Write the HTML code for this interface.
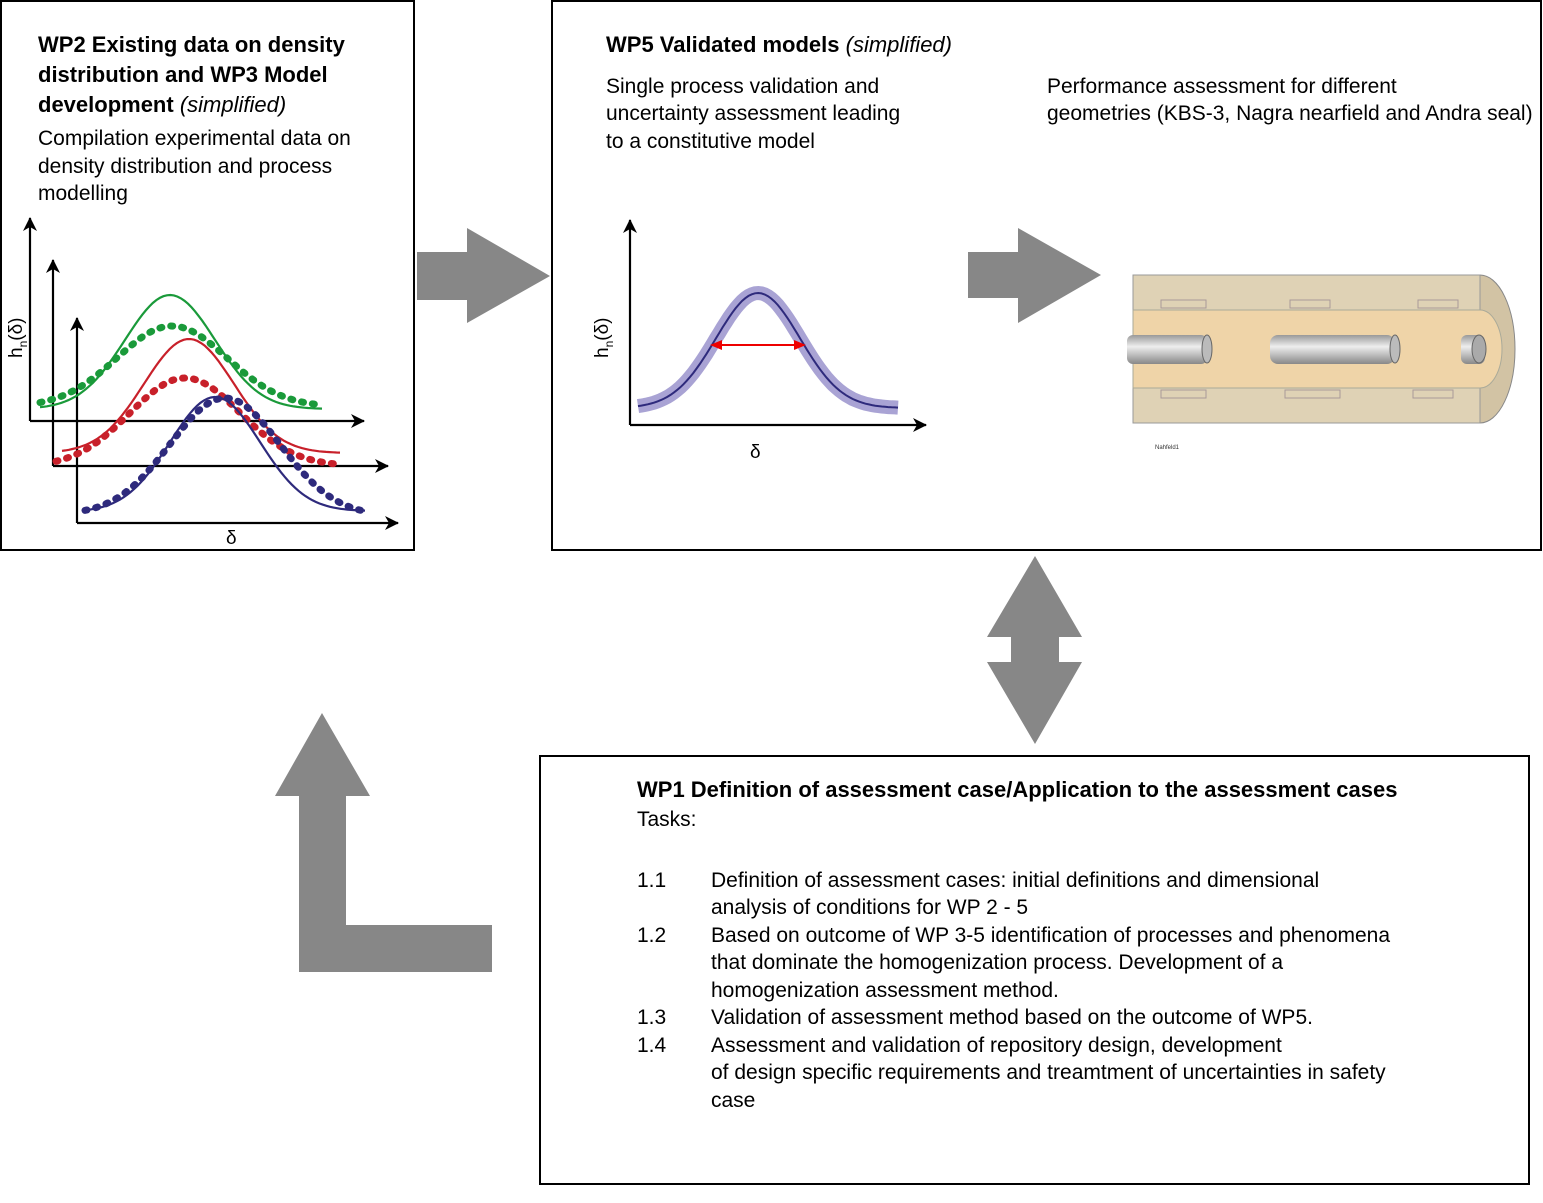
<!DOCTYPE html>
<html><head><style>
body{margin:0;background:#fff;}
svg{display:block;font-family:"Liberation Sans",sans-serif;}
</style></head><body>
<svg id="s" width="1543" height="1203" viewBox="0 0 1543 1203" xmlns="http://www.w3.org/2000/svg">
<defs>
<marker id="ah" markerWidth="14" markerHeight="14" refX="13" refY="7" orient="auto" markerUnits="userSpaceOnUse"><path d="M0,0 L14,7 L0,14 L4,7 Z" fill="#000"/></marker>
<linearGradient id="pg" x1="0" y1="0" x2="0" y2="1"><stop offset="0" stop-color="#999"/><stop offset="0.4" stop-color="#eee"/><stop offset="1" stop-color="#888"/></linearGradient>
</defs>
<rect x="1" y="1" width="413" height="549" fill="none" stroke="#000" stroke-width="2"/>
<rect x="552" y="1" width="989" height="549" fill="none" stroke="#000" stroke-width="2"/>
<rect x="540" y="756" width="989" height="428" fill="none" stroke="#000" stroke-width="2"/>
<g fill="#878787">
<polygon points="417,252 467,252 467,228 550,276 467,323 467,300 417,300"/>
<polygon points="968,252 1018,252 1018,228 1101,275 1018,323 1018,298 968,298"/>
<polygon points="1035,556 1082,637 1059,637 1059,662 1082,662 1035,744 987,662 1011,662 1011,637 987,637"/>
<polygon points="322,713 370,796 346,796 346,925 492,925 492,972 299,972 299,796 275,796"/>
</g>
<g font-size="22" fill="#000">
<text x="38" y="52" font-weight="bold">WP2 Existing data on density</text>
<text x="38" y="82" font-weight="bold">distribution and WP3 Model</text>
<text x="38" y="112"><tspan font-weight="bold">development</tspan> <tspan font-style="italic">(simplified)</tspan></text>
<text x="38" y="145" font-size="21">Compilation experimental data on</text>
<text x="38" y="173" font-size="21">density distribution and process</text>
<text x="38" y="200" font-size="21">modelling</text>
<text x="606" y="52"><tspan font-weight="bold">WP5 Validated models</tspan> <tspan font-style="italic">(simplified)</tspan></text>
<g font-size="21">
<text x="606" y="93">Single process validation and</text>
<text x="606" y="120">uncertainty assessment leading</text>
<text x="606" y="148">to a constitutive model</text>
<text x="1047" y="93">Performance assessment for different</text>
<text x="1047" y="120">geometries (KBS-3, Nagra nearfield and Andra seal)</text>
</g>
<text x="637" y="797" font-weight="bold">WP1 Definition of assessment case/Application to the assessment cases</text>
<g font-size="21">
<text x="637" y="826">Tasks:</text>
<text x="637" y="887">1.1</text><text x="711" y="887">Definition of assessment cases: initial definitions and dimensional</text>
<text x="711" y="914">analysis of conditions for WP 2 - 5</text>
<text x="637" y="942">1.2</text><text x="711" y="942">Based on outcome of WP 3-5 identification of  processes and phenomena</text>
<text x="711" y="969">that dominate the homogenization process. Development of a</text>
<text x="711" y="997">homogenization assessment method.</text>
<text x="637" y="1024">1.3</text><text x="711" y="1024">Validation of assessment method based on  the outcome of WP5.</text>
<text x="637" y="1052">1.4</text><text x="711" y="1052">Assessment and validation of repository design, development</text>
<text x="711" y="1079">of design specific requirements and treamtment of uncertainties in safety</text>
<text x="711" y="1107">case</text>
</g>
</g>
<g stroke="#000" stroke-width="2.2" fill="none" marker-end="url(#ah)">
<path d="M30,421 L30,218" /><path d="M30,421 L364,421"/>
<path d="M53,466 L53,260" /><path d="M53,466 L388,466"/>
<path d="M77,523 L77,318" /><path d="M77,523 L398,523"/>
<path d="M630,425 L630,220" /><path d="M630,425 L926,425"/>
</g>
<g id="curves"></g>
<text transform="translate(22,358) rotate(-90)" font-size="19">h<tspan font-size="12" dy="5">n</tspan><tspan dy="-5">(δ)</tspan></text>
<text x="226" y="544" font-size="19">δ</text>
<text transform="translate(608,358) rotate(-90)" font-size="19">h<tspan font-size="12" dy="5">n</tspan><tspan dy="-5">(δ)</tspan></text>
<text x="750" y="458" font-size="19">δ</text>
<g stroke="#e00" stroke-width="2" fill="#e00">
<line x1="720" y1="345" x2="796" y2="345"/>
<polygon points="710,345 722,340 722,350" stroke="none"/>
<polygon points="806,345 794,340 794,350" stroke="none"/>
</g>
<path d="M1480,275 A35,74 0 0 1 1480,423 Z" fill="#d2c3a4" stroke="#888"/>
<rect x="1133" y="275" width="347" height="148" fill="#dfd2b5" stroke="#999"/>
<path d="M1133,310 L1480,310 A22,39 0 0 1 1480,388 L1133,388 Z" fill="#efd4a8" stroke="#aa9"/>
<rect x="1127" y="335" width="80" height="29" rx="6" fill="url(#pg)"/>
<ellipse cx="1207" cy="349" rx="5" ry="14" fill="#bbb" stroke="#666"/>
<rect x="1270" y="335" width="125" height="29" rx="8" fill="url(#pg)"/>
<ellipse cx="1395" cy="349" rx="5" ry="14" fill="#bbb" stroke="#666"/>
<rect x="1461" y="335" width="24" height="29" rx="6" fill="url(#pg)"/>
<ellipse cx="1479" cy="349" rx="7" ry="14" fill="#aaa" stroke="#666"/>
<g fill="none" stroke="#a99" stroke-width="1">
<rect x="1161" y="300" width="45" height="8"/><rect x="1290" y="300" width="40" height="8"/><rect x="1418" y="300" width="40" height="8"/>
<rect x="1161" y="390" width="45" height="8"/><rect x="1285" y="390" width="55" height="8"/><rect x="1413" y="390" width="40" height="8"/>
</g>
<text x="1155" y="449" font-size="6" fill="#333">Nahfeld1</text>
</svg>
<script>
var ns="http://www.w3.org/2000/svg",g=document.getElementById("curves");
function gauss(x0,yb0,xp,yp,x1,yb1,sig){var d="";for(var i=0;i<=80;i++){var x=x0+(x1-x0)*i/80;var yb=yb0+(yb1-yb0)*i/80;var t=(x-xp)/sig;var y=yb+(yp-yb)*Math.exp(-t*t/2);d+=(i?"L":"M")+x.toFixed(1)+","+y.toFixed(1);}return d;}
function add(d,c,w,dash){var p=document.createElementNS(ns,"path");p.setAttribute("d",d);p.setAttribute("stroke",c);p.setAttribute("stroke-width",w);p.setAttribute("fill","none");if(dash){p.setAttribute("stroke-dasharray","2 9");p.setAttribute("stroke-linecap","round");}g.appendChild(p);}
add(gauss(638,408,758,293,898,408,42),"#a9a3d4",14,0);
add(gauss(638,408,758,293,898,408,42),"#2e2a7c",2,0);
add(gauss(40,409,170,295,322,409,45),"#1a9a3a",2.2,0);
add(gauss(40,407,172,326,322,407,55),"#1a9a3a",7,1);
add(gauss(62,453,189,339,340,453,45),"#c8202a",2.2,0);
add(gauss(56,467,185,378,338,466,55),"#c8202a",7,1);
add(gauss(85,512,215,397,365,511,45),"#2e2a7c",2.2,0);
add(gauss(85,515,225,398,368,516,55),"#2e2a7c",7,1);
</script>
</body></html>
